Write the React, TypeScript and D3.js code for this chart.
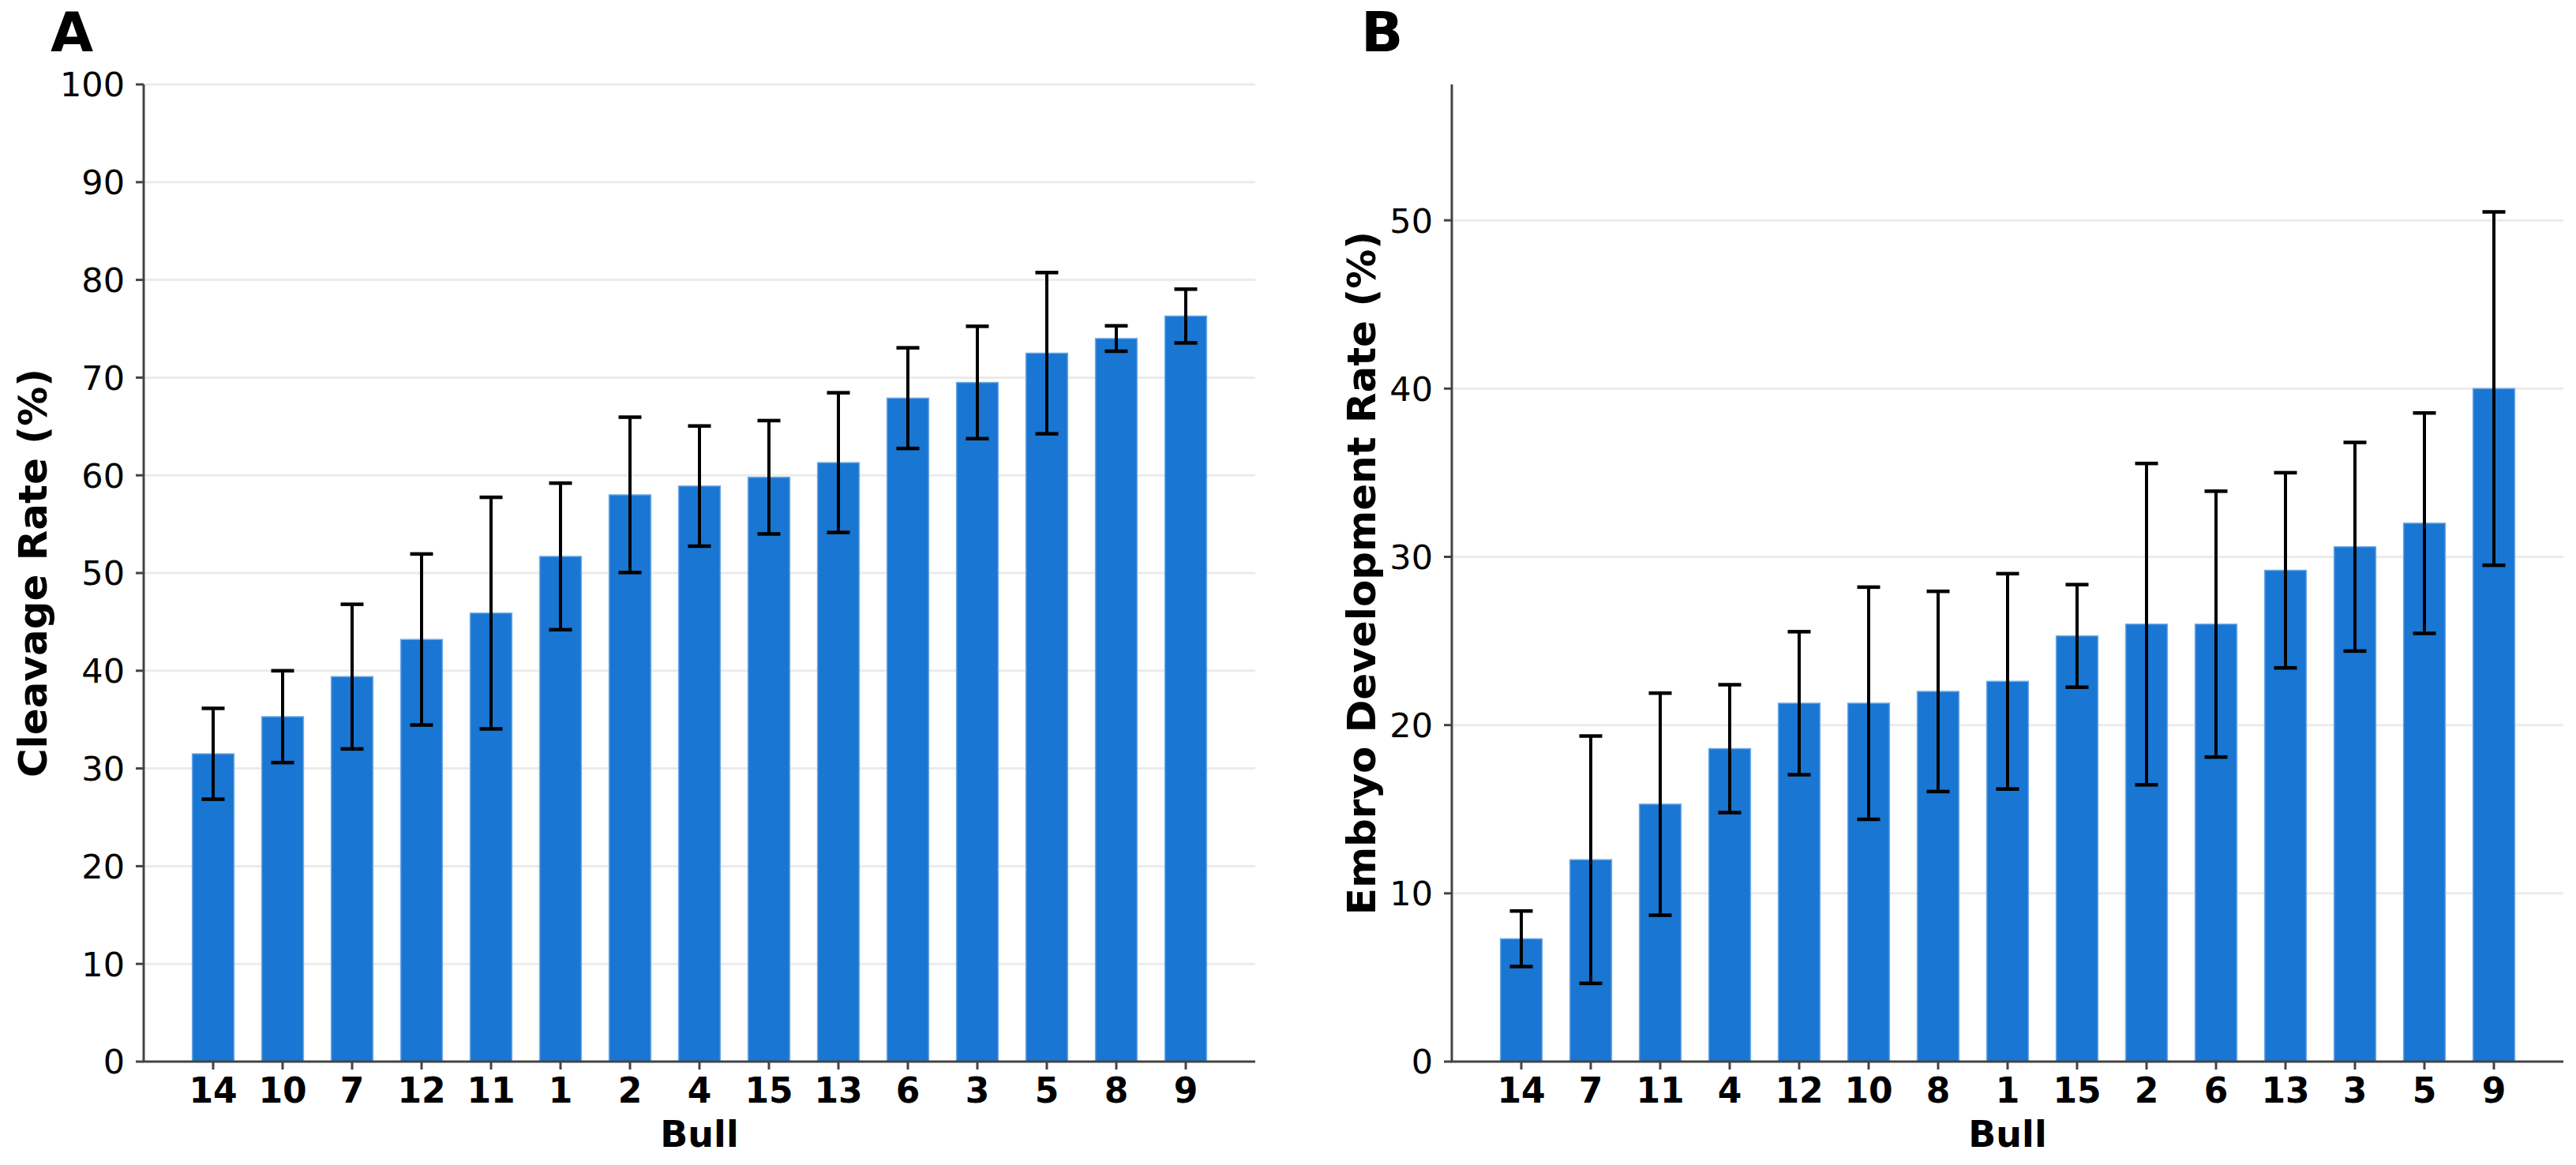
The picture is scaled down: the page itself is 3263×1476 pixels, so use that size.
import React, { useEffect } from "react";
import * as d3 from "d3";

const bullsA = ["14", "10", "7", "12", "11", "1", "2", "4", "15", "13", "6", "3", "5", "8", "9"];
const cleavageMean = [31.5, 35.3, 39.4, 43.2, 45.9, 51.7, 58.0, 58.9, 59.8, 61.3, 67.9, 69.5, 72.5, 74.0, 76.3];
const cleavageSD = [4.65, 4.7, 7.4, 8.75, 11.85, 7.5, 7.95, 6.15, 5.8, 7.15, 5.15, 5.75, 8.25, 1.3, 2.75];
const ticksA = [0, 10, 20, 30, 40, 50, 60, 70, 80, 90, 100];

const bullsB = ["14", "7", "11", "4", "12", "10", "8", "1", "15", "2", "6", "13", "3", "5", "9"];
const embryoMean = [7.3, 12.0, 15.3, 18.6, 21.3, 21.3, 22.0, 22.6, 25.3, 26.0, 26.0, 29.2, 30.6, 32.0, 40.0];
const embryoSD = [1.65, 7.35, 6.6, 3.8, 4.25, 6.9, 5.95, 6.4, 3.05, 9.55, 7.9, 5.8, 6.2, 6.55, 10.5];
const ticksB = [0, 10, 20, 30, 40, 50];

const FONT = "DejaVu Sans, sans-serif";
const BAR = "#1976D2";
const SPINE = "#444";

type PanelProps = {
  letter: string;
  x0: number;
  x1: number;
  cats: string[];
  means: number[];
  sds: number[];
  ticks: number[];
  yMax: number;
  yLabel: string;
  yLabelX: number;
  letterX: number;
};

const Y0 = 1345;
const Y1 = 107;

function Panel(p: PanelProps) {
  const x = d3.scalePoint<string>().domain(p.cats).range([p.x0, p.x1]).padding(1);
  const y = d3.scaleLinear().domain([0, p.yMax]).range([Y0, Y1]);
  const bw = x.step() * 0.6;
  const cap = 14.5;
  return (
    <g>
      <text x={p.letterX} y={65} fontFamily={FONT} fontWeight="bold" fontSize={70} fill="#000">
        {p.letter}
      </text>
      {p.ticks.filter((t) => t > 0).map((t) => (
        <line key={"g" + t} x1={p.x0} x2={p.x1} y1={y(t)} y2={y(t)} stroke="#ebebeb" strokeWidth={3} />
      ))}
      {p.cats.map((c, i) => (
        <rect
          key={"b" + c}
          x={(x(c) as number) - bw / 2}
          y={y(p.means[i])}
          width={bw}
          height={y(0) - y(p.means[i])}
          fill={BAR}
          stroke="#6fa9e6"
          strokeWidth={1.5}
        />
      ))}
      {p.cats.map((c, i) => {
        const cx = x(c) as number;
        const hi = y(p.means[i] + p.sds[i]);
        const lo = y(p.means[i] - p.sds[i]);
        return (
          <g key={"e" + c} stroke="#000">
            <line x1={cx} x2={cx} y1={hi} y2={lo} strokeWidth={4} />
            <line x1={cx - cap} x2={cx + cap} y1={hi} y2={hi} strokeWidth={4.5} />
            <line x1={cx - cap} x2={cx + cap} y1={lo} y2={lo} strokeWidth={4.5} />
          </g>
        );
      })}
      <line x1={p.x0} x2={p.x0} y1={Y1} y2={Y0} stroke={SPINE} strokeWidth={3} />
      <line x1={p.x0 - 1.5} x2={p.x1} y1={Y0} y2={Y0} stroke={SPINE} strokeWidth={3} />
      {p.ticks.map((t) => (
        <g key={"yt" + t}>
          <line x1={p.x0 - 10} x2={p.x0} y1={y(t)} y2={y(t)} stroke={SPINE} strokeWidth={3} />
          <text
            x={p.x0 - 24}
            y={y(t)}
            dy="0.36em"
            textAnchor="end"
            fontFamily={FONT}
            fontSize={43}
            fill="#000"
          >
            {t}
          </text>
        </g>
      ))}
      {p.cats.map((c) => (
        <g key={"xt" + c}>
          <line x1={x(c) as number} x2={x(c) as number} y1={Y0} y2={Y0 + 10} stroke={SPINE} strokeWidth={3} />
          <text
            x={x(c) as number}
            y={1397}
            textAnchor="middle"
            fontFamily={FONT}
            fontWeight="bold"
            fontSize={44}
            fill="#000"
          >
            {c}
          </text>
        </g>
      ))}
      <text
        x={(p.x0 + p.x1) / 2}
        y={1453}
        textAnchor="middle"
        fontFamily={FONT}
        fontWeight="bold"
        fontSize={46}
        fill="#000"
      >
        Bull
      </text>
      <text
        transform={`translate(${p.yLabelX},${(Y0 + Y1) / 2}) rotate(-90)`}
        textAnchor="middle"
        fontFamily={FONT}
        fontWeight="bold"
        fontSize={50}
        fill="#000"
      >
        {p.yLabel}
      </text>
    </g>
  );
}

export default function App() {
  useEffect(() => {
    document.body.style.margin = "0";
  }, []);
  const maxB = d3.max(embryoMean.map((m, i) => m + embryoSD[i])) as number;
  return (
    <svg
      width={3263}
      height={1476}
      viewBox="0 0 3263 1476"
      style={{ display: "block", position: "absolute", left: 0, top: 0, background: "#fff" }}
    >
      <rect width={3263} height={1476} fill="#fff" />
      <Panel
        letter="A"
        x0={182}
        x1={1590}
        cats={bullsA}
        means={cleavageMean}
        sds={cleavageSD}
        ticks={ticksA}
        yMax={100}
        yLabel="Cleavage Rate (%)"
        yLabelX={59}
        letterX={64}
      />
      <Panel
        letter="B"
        x0={1839}
        x1={3247}
        cats={bullsB}
        means={embryoMean}
        sds={embryoSD}
        ticks={ticksB}
        yMax={maxB * 1.15}
        yLabel="Embryo Development Rate (%)"
        yLabelX={1742}
        letterX={1724}
      />
    </svg>
  );
}
